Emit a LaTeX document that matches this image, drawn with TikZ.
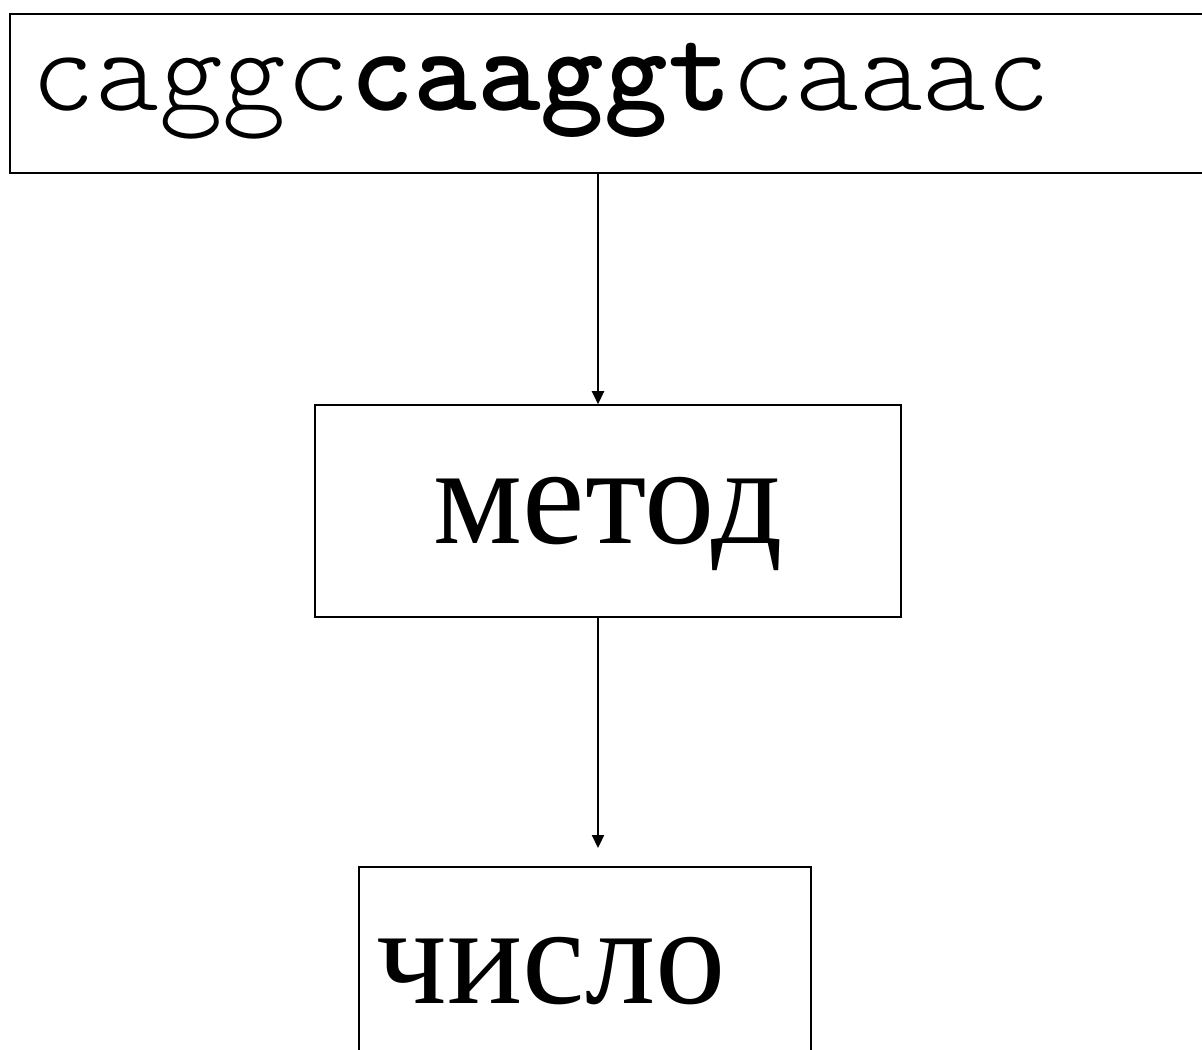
\documentclass[tikz,border=0pt]{standalone}
\usepackage{fontspec}
\setmainfont{Liberation Serif}
\newfontfamily\seqfont{lmmonolt10-regular.otf}[BoldFont=lmmonolt10-bold.otf]
\usetikzlibrary{arrows.meta}

\tikzset{
  box/.style={draw, line width=0.9pt, inner ysep=0pt, text depth=0pt},
  arr/.style={line width=1.2pt, -{Triangle[length=0.26cm, width=0.24cm]}}
}

\begin{document}
\begin{tikzpicture}[x=0.02cm, y=-0.02cm]
  \useasboundingbox (0,0) rectangle (1202,1049);

  % sequence, method, result
  \node[box, anchor=north west, minimum height=3.18cm, inner xsep=0.44cm,
        text width=23.54cm, align=left, text height=0.7cm,
        font=\seqfont\fontsize{69}{69}\selectfont] (seq) at (9,13)
        {caggc\textbf{caaggt}caaac};
  \node[box, minimum width=11.72cm, minimum height=4.24cm, text height=1.28cm,
        font=\fontsize{80}{80}\selectfont] (method) at (608,511) {метод};
  \node[box, anchor=north west, minimum height=4.2cm, inner xsep=0.36cm,
        text width=8.32cm, align=left, text height=1.28cm,
        font=\fontsize{80}{80}\selectfont] (result) at (358,866) {число};

  % arrows run down at x = 598
  \coordinate (ax) at (598,0);
  \draw[arr] (seq.south -| ax) -- (method.north -| ax);
  \draw[arr, shorten >=0.36cm] (method.south -| ax) -- (result.north -| ax);
\end{tikzpicture}
\end{document}
